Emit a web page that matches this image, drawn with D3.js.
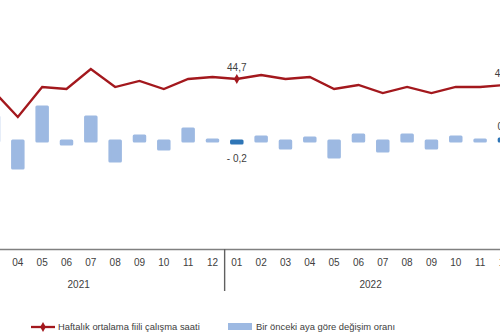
<!DOCTYPE html>
<html>
<head>
<meta charset="utf-8">
<script src="https://cdn.jsdelivr.net/npm/d3@7"></script>
<style>
  body { margin: 0; background: #fff; }
  svg { display: block; }
  text { font-family: "Liberation Sans", Arial, sans-serif; fill: #404040; }
</style>
</head>
<body>
<svg id="chart" width="500" height="335"></svg>
<script>
// Monthly series (YYYY-MM)
const months = [
  "2021-03", "2021-04", "2021-05", "2021-06", "2021-07", "2021-08", "2021-09", "2021-10", "2021-11", "2021-12",
  "2022-01", "2022-02", "2022-03", "2022-04", "2022-05", "2022-06", "2022-07", "2022-08", "2022-09", "2022-10", "2022-11", "2022-12"
];
// Average actual weekly working hours
const hours = [
  44.1, 42.8, 44.3, 44.2, 45.2, 44.3, 44.6, 44.2, 44.7, 44.8,
  44.7, 44.9, 44.7, 44.8, 44.2, 44.4, 44.0, 44.3, 44.0, 44.3, 44.3, 44.4
];
// Change on previous month (%)
const change = [
  2.4, -2.7, 3.4, -0.3, 2.4, -2.0, 0.5, -0.8, 1.2, 0.1,
  -0.2, 0.4, -0.7, 0.3, -1.6, 0.6, -1.0, 0.6, -0.7, 0.4, 0.1, 0.2
];
// Months whose values are labelled
const highlighted = ["2022-01", "2022-12"];
const legendLabels = ["Haftalık ortalama fiili çalışma saati", "Bir önceki aya göre değişim oranı"];

const lineColor = "#A3181D";
const barColor = "#9DB9E2";
const barHighlight = "#2E75B6";
const fmt = v => (v < 0 ? "- " : "") + d3.format(".1f")(Math.abs(v)).replace(".", ",");

const svg = d3.select("#chart");
const step = 24.33;
const firstCenter = -6.5;
const x = d3.scaleBand()
  .domain(months)
  .range([firstCenter - step / 2, firstCenter - step / 2 + months.length * step])
  .padding(0);
const cx = m => x(m) + x.bandwidth() / 2;

const yLine = d3.scaleLinear().domain([42, 46]).range([133, 53]);
const yBar = d3.scaleLinear().domain([-3, 4]).range([171, 101]);

const rows = months.map((m, i) => ({ m, h: hours[i], c: change[i], hi: highlighted.includes(m) }));

// Change bars (stroke in fill colour gives the soft rounded ends)
const bw = 10.5;
svg.append("g").selectAll("rect").data(rows).join("rect")
  .attr("x", d => cx(d.m) - bw / 2)
  .attr("y", d => Math.min(yBar(d.c), yBar(0)))
  .attr("width", bw)
  .attr("height", d => Math.max(0.5, Math.abs(yBar(d.c) - yBar(0))))
  .attr("fill", d => d.hi ? barHighlight : barColor)
  .attr("stroke", d => d.hi ? barHighlight : barColor)
  .attr("stroke-width", 3)
  .attr("stroke-linejoin", "round");

// Bar value labels
svg.append("g").selectAll("text").data(rows.filter(d => d.hi)).join("text")
  .attr("x", d => cx(d.m))
  .attr("y", d => d.c < 0 ? yBar(d.c) + 18.5 : yBar(d.c) - 9)
  .attr("text-anchor", "middle")
  .attr("font-size", 10)
  .text(d => fmt(d.c));

// Hours line
svg.append("path")
  .datum(rows)
  .attr("fill", "none")
  .attr("stroke", lineColor)
  .attr("stroke-width", 2.3)
  .attr("d", d3.line().x(d => cx(d.m)).y(d => yLine(d.h)));

svg.append("g").selectAll("path").data(rows.filter(d => d.hi)).join("path")
  .attr("transform", d => `translate(${cx(d.m)},${yLine(d.h)})`)
  .attr("d", d3.symbol(d3.symbolDiamond, 28))
  .attr("fill", lineColor);

svg.append("g").selectAll("text").data(rows.filter(d => d.hi)).join("text")
  .attr("x", d => cx(d.m))
  .attr("y", d => yLine(d.h) - 8)
  .attr("text-anchor", "middle")
  .attr("font-size", 10)
  .text(d => fmt(d.h));

// Month axis
const axisY = 249;
const axis = svg.append("g")
  .attr("transform", `translate(0,${axisY})`)
  .call(d3.axisBottom(x).tickSize(0).tickSizeOuter(0).tickPadding(10).tickFormat(d => d.slice(5)));
axis.select(".domain").attr("stroke", "#808080").attr("stroke-width", 1.6);
axis.selectAll("text").attr("font-size", 10).attr("fill", "#404040").attr("font-family", null);

// Year groups and dividers
const years = Array.from(new Set(months.map(m => m.slice(0, 4))));
const yearSpans = years.map(yr => {
  const first = months.find(m => m.startsWith(yr));
  const start = x(first) - (+first.slice(5) - 1) * step;
  return { yr, start, end: start + 12 * step };
});
const bounds = Array.from(new Set(yearSpans.flatMap(s => [s.start, s.end])));
svg.append("g").selectAll("line").data(bounds).join("line")
  .attr("x1", d => d).attr("x2", d => d)
  .attr("y1", axisY).attr("y2", 291)
  .attr("stroke", "#606060").attr("stroke-width", 1.4);
svg.append("g").selectAll("text").data(yearSpans).join("text")
  .attr("x", d => (d.start + d.end) / 2)
  .attr("y", 288)
  .attr("text-anchor", "middle")
  .attr("font-size", 10)
  .text(d => d.yr);

// Legend
const lg = svg.append("g");
lg.append("line").attr("x1", 31).attr("x2", 55).attr("y1", 327).attr("y2", 327)
  .attr("stroke", lineColor).attr("stroke-width", 2.3);
lg.append("path").attr("transform", "translate(43,327)")
  .attr("d", d3.symbol(d3.symbolDiamond, 28)).attr("fill", lineColor);
lg.append("text").attr("x", 58).attr("y", 330).attr("font-size", 9.4).text(legendLabels[0]);
lg.append("rect").attr("x", 228).attr("y", 323).attr("width", 24).attr("height", 7).attr("fill", barColor);
lg.append("text").attr("x", 256).attr("y", 330).attr("font-size", 9.4).text(legendLabels[1]);
</script>
</body>
</html>
